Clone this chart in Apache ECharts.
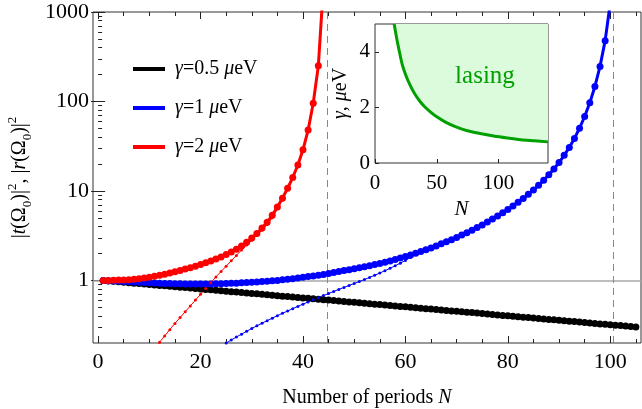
<!DOCTYPE html>
<html>
<head>
<meta charset="utf-8">
<script src="https://cdn.jsdelivr.net/npm/echarts@6/dist/echarts.min.js"></script>
<style>
  html, body { margin: 0; padding: 0; background: #fff; }
  #main { width: 642px; height: 409px; }
</style>
</head>
<body>
<div id="main"></div>
<script>
// |t|^2 / |r|^2 vs number of periods, one value per integer N
var blackStart = 1;
var blackVals = [1.000, 0.989, 0.977, 0.966, 0.955, 0.944, 0.933, 0.923, 0.912, 0.902,
  0.891, 0.881, 0.871, 0.861, 0.851, 0.841, 0.832, 0.822, 0.813, 0.804,
  0.794, 0.785, 0.776, 0.767, 0.759, 0.750, 0.741, 0.733, 0.724, 0.716,
  0.708, 0.700, 0.692, 0.684, 0.676, 0.668, 0.661, 0.653, 0.646, 0.638,
  0.631, 0.624, 0.617, 0.610, 0.603, 0.596, 0.589, 0.582, 0.575, 0.569,
  0.562, 0.556, 0.550, 0.543, 0.537, 0.531, 0.525, 0.519, 0.513, 0.507,
  0.501, 0.496, 0.490, 0.484, 0.479, 0.473, 0.468, 0.462, 0.457, 0.452,
  0.447, 0.442, 0.437, 0.432, 0.427, 0.422, 0.417, 0.412, 0.407, 0.403,
  0.398, 0.394, 0.389, 0.385, 0.380, 0.376, 0.372, 0.367, 0.363, 0.359,
  0.355, 0.351, 0.347, 0.343, 0.339, 0.335, 0.331, 0.327, 0.324, 0.320,
  0.316, 0.313, 0.309, 0.305, 0.302];

var blueStart = 1;
var blueVals = [1.000, 0.993, 0.986, 0.979, 0.973, 0.966, 0.959, 0.953, 0.946, 0.940,
  0.936, 0.931, 0.927, 0.923, 0.918, 0.916, 0.914, 0.912, 0.912, 0.912,
  0.912, 0.914, 0.916, 0.920, 0.925, 0.929, 0.933, 0.940, 0.946, 0.953,
  0.962, 0.971, 0.979, 0.991, 1.002, 1.016, 1.030, 1.047, 1.064, 1.084,
  1.104, 1.125, 1.146, 1.169, 1.197, 1.225, 1.256, 1.288, 1.321, 1.355,
  1.390, 1.422, 1.462, 1.503, 1.549, 1.596, 1.648, 1.710, 1.778, 1.849,
  1.928, 2.014, 2.104, 2.203, 2.312, 2.432, 2.564, 2.704, 2.858, 3.027,
  3.214, 3.420, 3.648, 3.899, 4.178, 4.498, 4.853, 5.248, 5.702, 6.209,
  6.792, 7.464, 8.241, 9.162, 10.26, 11.56, 13.15, 15.14, 17.62, 20.80,
  25.00, 30.69, 38.64, 50.23, 67.92, 96.61, 147.2, 246.6, 478.6, 1259];

var redStart = 1;
var redVals = [1.000, 1.002, 1.005, 1.009, 1.014, 1.021, 1.033, 1.047, 1.067, 1.089,
  1.114, 1.143, 1.175, 1.211, 1.250, 1.294, 1.340, 1.390, 1.445, 1.507,
  1.574, 1.648, 1.734, 1.832, 1.945, 2.080, 2.239, 2.432, 2.667, 2.985,
  3.350, 3.846, 4.467, 5.370, 6.607, 8.318, 10.72, 14.13, 19.50, 28.84,
  47.86, 95.50, 251.2, 1995];

// thin lines (asymptotes)
var redThinStart = 11;
var redThinVals = [0.174, 0.204, 0.240, 0.282, 0.331, 0.385, 0.447, 0.519, 0.603, 0.700,
  0.813, 0.944, 1.096, 1.259, 1.445, 1.660, 1.905, 2.188, 2.483, 2.818,
  3.199, 3.631, 4.217, 5.012, 6.310, 7.943];

var blueThinStart = 25;
var blueThinVals = [0.1995, 0.2163, 0.2333, 0.2512, 0.2704, 0.2904, 0.3112, 0.3327, 0.3556, 0.3793,
  0.4036, 0.4295, 0.4560, 0.4842, 0.5129, 0.5433, 0.5754, 0.6081, 0.6427, 0.6776,
  0.7145, 0.7534, 0.7943, 0.8356, 0.8790, 0.9247, 0.9727, 1.0233, 1.0814, 1.1429,
  1.2106, 1.2853, 1.3677, 1.4588, 1.5596, 1.6749, 1.8072, 1.9498, 2.0797, 2.1928];

// lasing thresholds (dashed lines) and unity line
var thresholds = [44.7, 100.6];
var unity = 1;

// inset: threshold gamma vs N
var insetN = [15.5, 18, 20, 22, 25, 28, 32, 36, 40, 45, 50, 57, 65, 74, 85, 96, 107, 118, 129, 140];
var insetGamma = [5.0, 4.38, 3.95, 3.55, 3.15, 2.84, 2.5, 2.24, 2.03, 1.83, 1.66, 1.47, 1.31, 1.17, 1.06, 0.97, 0.9, 0.84, 0.8, 0.76];
var lasingAt = [89, 3.1];

// ticks
var xMajor = [0, 20, 40, 60, 80, 100];
var xMinor = [5, 10, 15, 25, 30, 35, 45, 50, 55, 65, 70, 75, 85, 90, 95, 105];
var yMajor = [1, 10, 100, 1000];
var yMinor = [0.3, 0.4, 0.5, 0.6, 0.7, 0.8, 0.9, 2, 3, 4, 5, 6, 7, 8, 9,
  20, 30, 40, 50, 60, 70, 80, 90, 200, 300, 400, 500, 600, 700, 800, 900];
var insetXTicks = [0, 50, 100];
var insetYTicks = [0, 2, 4];

var serif = "'Liberation Serif', 'Times New Roman', 'DejaVu Serif', serif";

function pairs(start, vals) {
    return vals.map(function (v, i) { return [start + i, v]; });
}

// rich styles: n = upright, i = italic, s = subscript, p = superscript
function richSet(size) {
    return {
        n: { fontFamily: serif, fontSize: size, color: '#000' },
        i: { fontFamily: serif, fontSize: size, fontStyle: 'italic', color: '#000' },
        s: { fontFamily: serif, fontSize: Math.round(size * 0.65), verticalAlign: 'bottom', color: '#000' },
        p: { fontFamily: serif, fontSize: Math.round(size * 0.65), verticalAlign: 'top', color: '#000' }
    };
}

var chart = echarts.init(document.getElementById('main'));

function tickAxisX(pos, values, len) {
    return {
        type: 'value', gridIndex: 0, position: pos, min: -1, max: 106,
        axisLine: { show: false },
        axisTick: { show: true, inside: true, length: len, customValues: values, lineStyle: { color: '#222' } },
        axisLabel: { show: false },
        splitLine: { show: false }
    };
}
function tickAxisY(pos, values, len) {
    return {
        type: 'log', gridIndex: 0, position: pos, min: 0.2, max: 1000,
        axisLine: { show: false },
        axisTick: { show: true, inside: true, length: len, customValues: values, lineStyle: { color: '#222' } },
        axisLabel: { show: false },
        splitLine: { show: false }
    };
}

var legendRich = {
    'γ=0.5 μeV': '{i|γ}{n|=0.5 }{i|μ}{n|eV}',
    'γ=1 μeV': '{i|γ}{n|=1 }{i|μ}{n|eV}',
    'γ=2 μeV': '{i|γ}{n|=2 }{i|μ}{n|eV}'
};

var yRich = richSet(20);
yRich.i.lineHeight = 28; yRich.n.lineHeight = 28; yRich.s.lineHeight = 28; yRich.p.lineHeight = 28;

var option = {
    animation: false,
    textStyle: { fontFamily: serif, color: '#000' },
    grid: [
        { left: 93, top: 12, right: 1, bottom: 66, show: true, borderColor: '#333', borderWidth: 1, outerBoundsMode: 'none' },
        { left: 375, top: 24, width: 173, height: 139, show: true, borderColor: '#333', borderWidth: 1,
          backgroundColor: '#fff', outerBoundsMode: 'none' }
    ],
    legend: {
        data: ['γ=0.5 μeV', 'γ=1 μeV', 'γ=2 μeV'],
        orient: 'vertical',
        left: 133, top: 57,
        padding: 0,
        itemGap: 15,
        itemWidth: 32, itemHeight: 4,
        icon: 'rect',
        formatter: function (name) { return legendRich[name]; },
        textStyle: {
            fontFamily: serif, fontSize: 20, color: '#000', lineHeight: 24, padding: [0, 0, 0, 5],
            rich: richSet(20)
        }
    },
    xAxis: [
        {
            type: 'value', gridIndex: 0, position: 'bottom', min: -1, max: 106,
            name: '{n|Number of periods }{i|N}',
            nameLocation: 'middle', nameGap: 45,
            nameTextStyle: { fontSize: 20, fontFamily: serif, color: '#000', rich: richSet(20) },
            axisLine: { show: false },
            axisTick: { show: true, inside: true, length: 7, customValues: xMajor, lineStyle: { color: '#222' } },
            axisLabel: { customValues: xMajor, fontSize: 22, fontFamily: serif, color: '#000', margin: 8 },
            splitLine: { show: false }
        },
        tickAxisX('bottom', xMinor, 4),
        tickAxisX('top', xMajor, 7),
        tickAxisX('top', xMinor, 4),
        {
            type: 'value', gridIndex: 1, position: 'bottom', min: 0, max: 140,
            name: '{i|N}', nameLocation: 'middle', nameGap: 36,
            nameTextStyle: { fontSize: 21, fontFamily: serif, color: '#000', rich: richSet(21) },
            axisLine: { show: false },
            axisTick: { show: true, inside: true, length: 4, customValues: insetXTicks, lineStyle: { color: '#222' } },
            axisLabel: { customValues: insetXTicks, fontSize: 21, fontFamily: serif, color: '#000', margin: 10 },
            splitLine: { show: false }
        }
    ],
    yAxis: [
        {
            type: 'log', gridIndex: 0, position: 'left', min: 0.2, max: 1000,
            name: '{n||}{i|t}{n|(Ω}{s|0}{n|)|}{p|2}{n|, |}{i|r}{n|(Ω}{s|0}{n|)|}{p|2}',
            nameLocation: 'middle', nameRotate: 90, nameGap: 58,
            nameTextStyle: { fontSize: 20, fontFamily: serif, color: '#000', rich: yRich },
            axisLine: { show: false },
            axisTick: { show: true, inside: true, length: 7, customValues: yMajor, lineStyle: { color: '#222' } },
            axisLabel: { customValues: yMajor, fontSize: 22, fontFamily: serif, color: '#000', margin: 4,
                formatter: function (v) { return String(v); } },
            splitLine: { show: false }
        },
        tickAxisY('left', yMinor, 4),
        tickAxisY('right', yMajor, 7),
        {
            type: 'value', gridIndex: 1, position: 'left', min: 0, max: 5,
            name: '{i|γ}{n|, }{i|μ}{n|eV}', nameLocation: 'middle', nameRotate: 90, nameGap: 24,
            nameTextStyle: { fontSize: 20, fontFamily: serif, color: '#000', rich: richSet(20) },
            axisLine: { show: false },
            axisTick: { show: true, inside: true, length: 4, customValues: insetYTicks, lineStyle: { color: '#222' } },
            axisLabel: { customValues: insetYTicks, fontSize: 21, fontFamily: serif, color: '#000', margin: 5 },
            splitLine: { show: false }
        }
    ],
    series: [
        {
            name: 'γ=0.5 μeV', type: 'line', xAxisIndex: 0, yAxisIndex: 0,
            data: pairs(blackStart, blackVals),
            color: '#000000', lineStyle: { width: 3 },
            symbol: 'circle', symbolSize: 7, showAllSymbol: true,
            markLine: {
                silent: true, symbol: 'none', z: 1,
                label: { show: false },
                data: [
                    { yAxis: unity, lineStyle: { color: '#a8a8a8', width: 1.5, type: 'solid' } }
                ].concat(thresholds.map(function (t) {
                    return { xAxis: t, lineStyle: { color: '#888', width: 1, type: [7, 5] } };
                }))
            }
        },
        {
            name: 'γ=1 μeV', type: 'line', xAxisIndex: 0, yAxisIndex: 0,
            data: pairs(blueStart, blueVals),
            color: '#0000ff', lineStyle: { width: 3 },
            symbol: 'circle', symbolSize: 7, showAllSymbol: true
        },
        {
            name: 'γ=2 μeV', type: 'line', xAxisIndex: 0, yAxisIndex: 0,
            data: pairs(redStart, redVals),
            color: '#ff0000', lineStyle: { width: 3 },
            symbol: 'circle', symbolSize: 7, showAllSymbol: true
        },
        {
            name: 'blue asymptote', type: 'line', xAxisIndex: 0, yAxisIndex: 0,
            data: pairs(blueThinStart, blueThinVals),
            color: '#0000ff', lineStyle: { width: 1 },
            symbol: 'circle', symbolSize: 3, showAllSymbol: true
        },
        {
            name: 'red asymptote', type: 'line', xAxisIndex: 0, yAxisIndex: 0,
            data: pairs(redThinStart, redThinVals),
            color: '#ff0000', lineStyle: { width: 1 },
            symbol: 'circle', symbolSize: 3, showAllSymbol: true
        },
        {
            name: 'threshold', type: 'line', xAxisIndex: 4, yAxisIndex: 3,
            data: insetN.map(function (n, i) { return [n, insetGamma[i]]; }),
            smooth: 0.3,
            color: '#00a000', lineStyle: { width: 3 },
            symbol: 'none',
            areaStyle: { origin: 'end', color: '#dcfadc', opacity: 1 },
            markPoint: {
                silent: true, symbol: 'circle', symbolSize: 0,
                label: { show: true, position: 'inside', formatter: 'lasing',
                    fontSize: 25, fontFamily: serif, color: '#00a000' },
                data: [{ coord: lasingAt }]
            }
        }
    ]
};

chart.setOption(option);
</script>
</body>
</html>
